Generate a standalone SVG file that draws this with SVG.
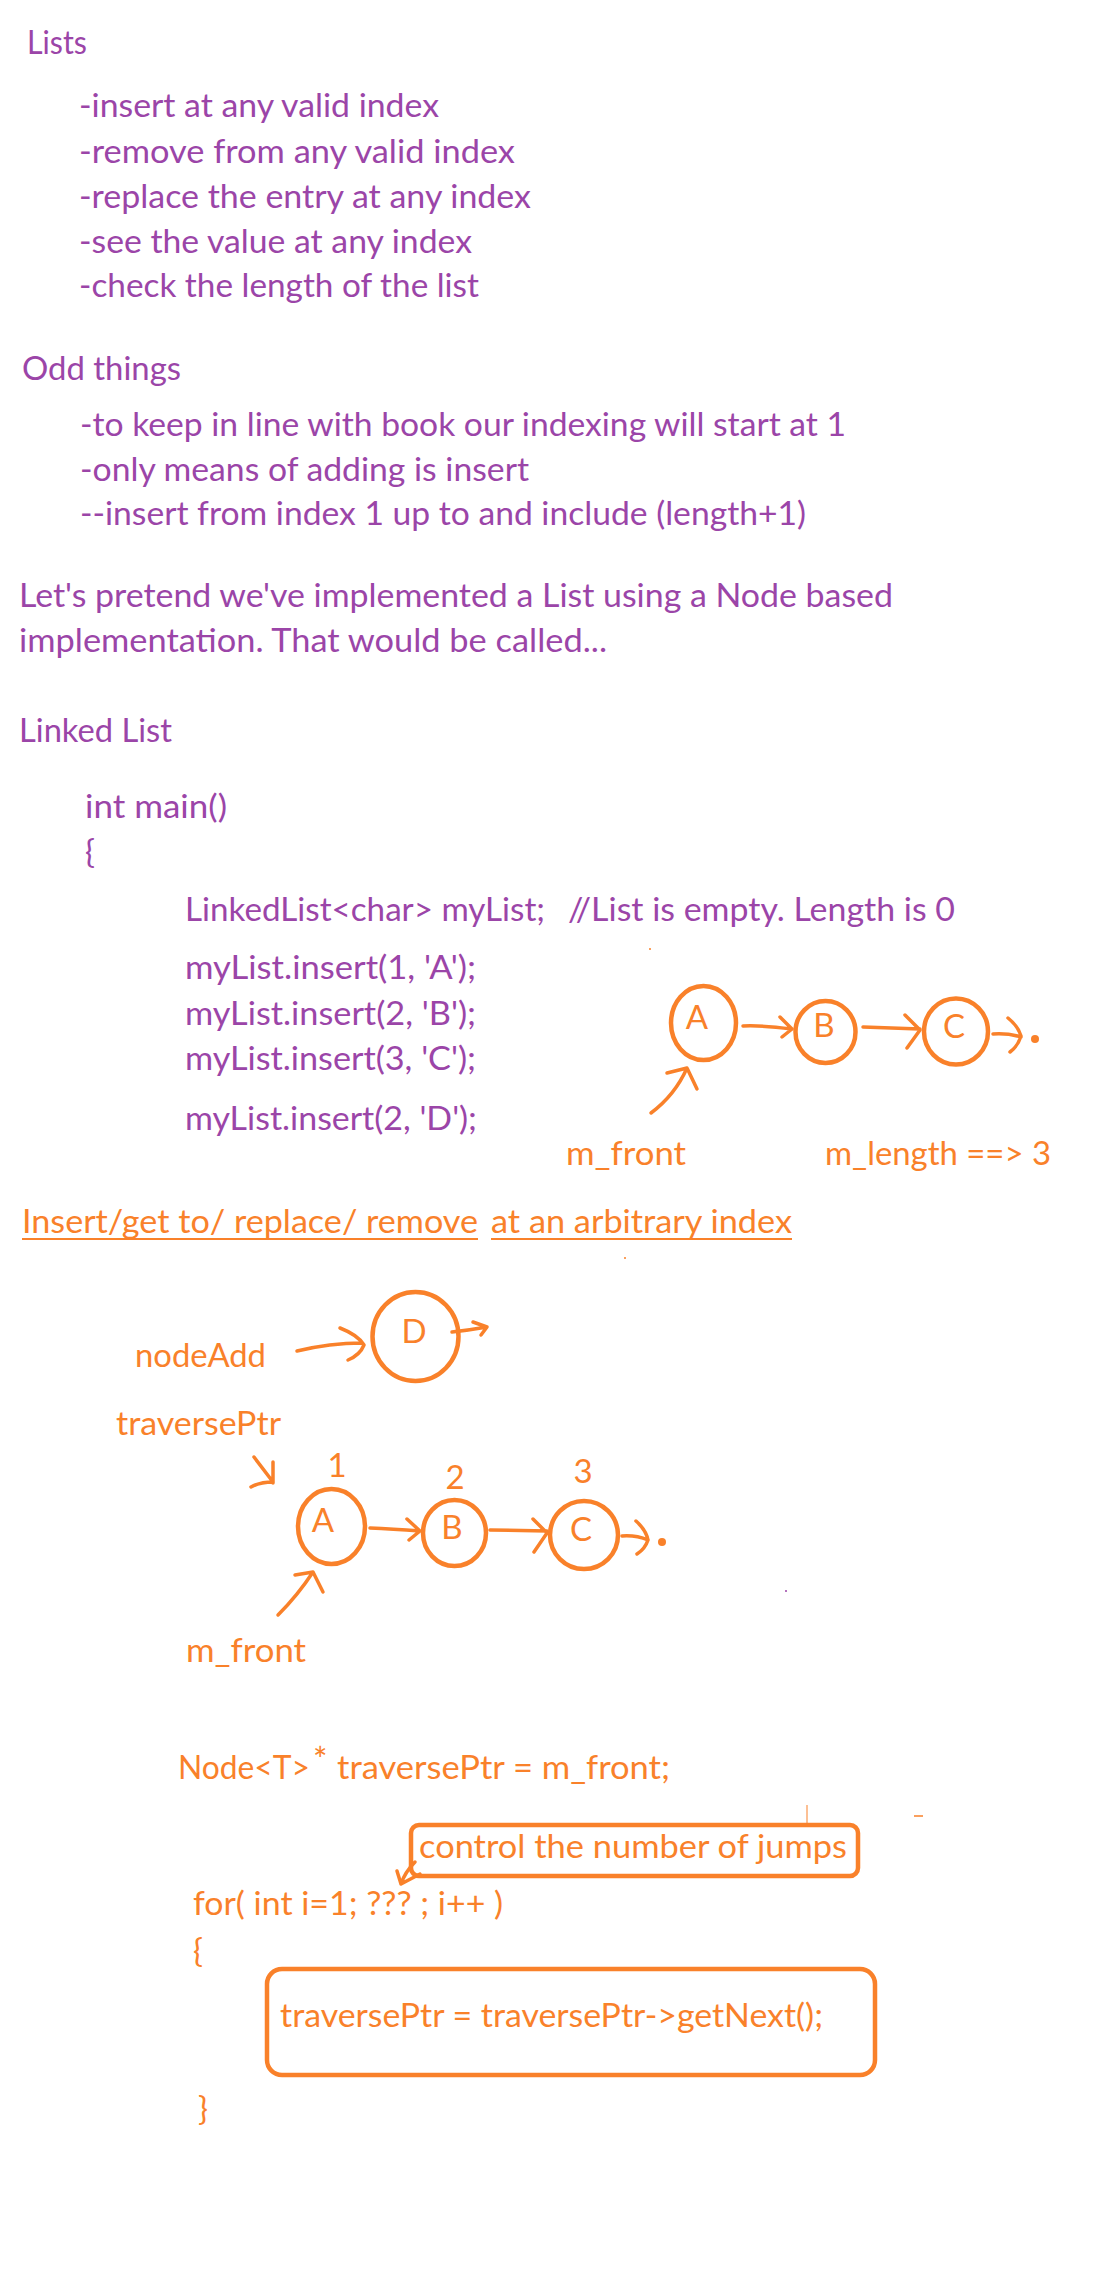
<svg xmlns="http://www.w3.org/2000/svg" width="1112" height="2276" viewBox="0 0 1112 2276">
<style>
text{font-family:Lato,"Open Sans","Liberation Sans",sans-serif;font-size:33px}
.p{fill:#9B45A8}
.o{fill:#F9812A}
.c{text-anchor:middle}
.ring{fill:none;stroke:#F9812A;stroke-width:4.5}
.ln{fill:none;stroke:#F9812A;stroke-width:3.5;stroke-linecap:round;stroke-linejoin:round}
.box{fill:none;stroke:#F9812A;stroke-width:4.5}
</style>
<rect width="1112" height="2276" fill="#fff"/>

<g id="notes">
<text class="p" x="27" y="54" textLength="60" lengthAdjust="spacingAndGlyphs">Lists</text>
<text class="p" x="79" y="117" textLength="360" lengthAdjust="spacingAndGlyphs">-insert at any valid index</text>
<text class="p" x="79" y="163" textLength="436" lengthAdjust="spacingAndGlyphs">-remove from any valid index</text>
<text class="p" x="79" y="208" textLength="452" lengthAdjust="spacingAndGlyphs">-replace the entry at any index</text>
<text class="p" x="79" y="253" textLength="393" lengthAdjust="spacingAndGlyphs">-see the value at any index</text>
<text class="p" x="79" y="297" textLength="400" lengthAdjust="spacingAndGlyphs">-check the length of the list</text>
<text class="p" x="22" y="380" textLength="159" lengthAdjust="spacingAndGlyphs">Odd things</text>
<text class="p" x="80" y="436" textLength="766" lengthAdjust="spacingAndGlyphs">-to keep in line with book our indexing will start at 1</text>
<text class="p" x="80" y="481" textLength="449" lengthAdjust="spacingAndGlyphs">-only means of adding is insert</text>
<text class="p" x="80" y="525" textLength="726" lengthAdjust="spacingAndGlyphs">--insert from index 1 up to and include (length+1)</text>
<text class="p" x="19" y="607" textLength="874" lengthAdjust="spacingAndGlyphs">Let's pretend we've implemented a List using a Node based</text>
<text class="p" x="19" y="652" textLength="588" lengthAdjust="spacingAndGlyphs">implementation. That would be called...</text>
<text class="p" x="19" y="742" textLength="153" lengthAdjust="spacingAndGlyphs">Linked List</text>
<text class="p" x="85" y="818" textLength="142" lengthAdjust="spacingAndGlyphs">int main()</text>
<text class="p" x="85" y="863">{</text>
<text class="p" x="185" y="921" textLength="360" lengthAdjust="spacingAndGlyphs">LinkedList&lt;char&gt; myList;</text>
<text class="p" x="568" y="921" textLength="387" lengthAdjust="spacingAndGlyphs">//List is empty. Length is 0</text>
<text class="p" x="185" y="979" textLength="291" lengthAdjust="spacingAndGlyphs">myList.insert(1, 'A');</text>
<text class="p" x="185" y="1025" textLength="291" lengthAdjust="spacingAndGlyphs">myList.insert(2, 'B');</text>
<text class="p" x="185" y="1070" textLength="291" lengthAdjust="spacingAndGlyphs">myList.insert(3, 'C');</text>
<text class="p" x="185" y="1130" textLength="292" lengthAdjust="spacingAndGlyphs">myList.insert(2, 'D');</text>
</g>

<g id="list1-A"><ellipse class="ring" cx="703.5" cy="1023" rx="32.5" ry="37"/><text class="o c" x="697" y="1029">A</text></g>
<g id="list1-B"><ellipse class="ring" cx="825.5" cy="1032" rx="30" ry="31"/><text class="o c" x="824" y="1037">B</text></g>
<g id="list1-C"><ellipse class="ring" cx="956" cy="1031.5" rx="32" ry="33"/><text class="o c" x="954" y="1038">C</text></g>
<g id="list1-null"><circle cx="1035" cy="1039" r="4" fill="#F9812A"/></g>
<g id="list1-labels">
<text class="o" x="566" y="1165" textLength="120" lengthAdjust="spacingAndGlyphs">m_front</text>
<text class="o" x="825" y="1165" textLength="226" lengthAdjust="spacingAndGlyphs">m_length ==&gt; 3</text>
</g>

<g id="heading">
<text class="o" x="22" y="1233" textLength="456" lengthAdjust="spacingAndGlyphs">Insert/get to/ replace/ remove</text>
<text class="o" x="491" y="1233" textLength="301" lengthAdjust="spacingAndGlyphs">at an arbitrary index</text>
<line x1="22" y1="1239" x2="478" y2="1239" stroke="#F9812A" stroke-width="2"/>
<line x1="491" y1="1239" x2="792" y2="1239" stroke="#F9812A" stroke-width="2"/>
</g>

<g id="nodeAdd-label"><text class="o" x="135" y="1367" textLength="131" lengthAdjust="spacingAndGlyphs">nodeAdd</text></g>
<g id="node-D"><ellipse class="ring" cx="415.5" cy="1336.5" rx="43" ry="44.5"/><text class="o c" x="414" y="1343">D</text></g>
<g id="traversePtr-label"><text class="o" x="116" y="1435" textLength="165" lengthAdjust="spacingAndGlyphs">traversePtr</text></g>
<g id="indices">
<text class="o c" x="337" y="1477">1</text>
<text class="o c" x="455" y="1489">2</text>
<text class="o c" x="583" y="1483">3</text>
</g>
<g id="list2-A"><ellipse class="ring" cx="331.5" cy="1526.5" rx="33.5" ry="37.5"/><text class="o c" x="323" y="1532">A</text></g>
<g id="list2-B"><ellipse class="ring" cx="454.5" cy="1533" rx="31.5" ry="33"/><text class="o c" x="452" y="1539">B</text></g>
<g id="list2-C"><ellipse class="ring" cx="584" cy="1535" rx="34" ry="34"/><text class="o c" x="581" y="1541">C</text></g>
<g id="list2-null"><circle cx="662" cy="1542" r="4" fill="#F9812A"/></g>
<g id="list2-front"><text class="o" x="186" y="1662" textLength="120" lengthAdjust="spacingAndGlyphs">m_front</text></g>

<g id="code">
<text class="o" x="178" y="1779" textLength="132" lengthAdjust="spacingAndGlyphs">Node&lt;T&gt;</text>
<text class="o" x="313" y="1772" style="font-size:34px">*</text>
<text class="o" x="337" y="1779" textLength="333" lengthAdjust="spacingAndGlyphs">traversePtr = m_front;</text>
<text class="o" x="193" y="1915" textLength="310" lengthAdjust="spacingAndGlyphs">for( int i=1; ??? ; i++ )</text>
<text class="o" x="193" y="1962">{</text>
<text class="o" x="198" y="2120">}</text>
</g>
<g id="callout">
<rect class="box" x="411" y="1825" width="447" height="51" rx="8"/>
<text class="o" x="419" y="1858" textLength="428" lengthAdjust="spacingAndGlyphs">control the number of jumps</text>
</g>
<g id="loop-body">
<rect class="box" x="267" y="1969" width="608" height="106" rx="15"/>
<text class="o" x="280" y="2027" textLength="543" lengthAdjust="spacingAndGlyphs">traversePtr = traversePtr-&gt;getNext();</text>
</g>

<g id="connectors">
<path class="ln" d="M743,1026 Q760,1025 792,1029 M780,1017 L792,1029 L782,1037"/>
<path class="ln" d="M863,1027 L920,1029 M905,1015 L920,1030 L907,1048"/>
<path class="ln" d="M993,1034 Q1008,1033 1021,1037 M1008,1018 Q1018,1026 1021,1036 Q1018,1046 1010,1052"/>
<path class="ln" d="M651,1113 Q675,1095 687,1068 M667,1073 L687,1068 L697,1089"/>
<path class="ln" d="M297,1351 Q330,1343 362,1343 M340,1328 Q358,1335 364,1345 Q360,1355 348,1360"/>
<path class="ln" d="M452,1332 Q470,1330 487,1327 M473,1322 L487,1327 L481,1335"/>
<path class="ln" d="M254,1457 L273,1482 M273,1462 L273,1483 M251,1487 Q260,1482 273,1482"/>
<path class="ln" d="M370,1528 Q392,1529 420,1531 M407,1519 L420,1531 L409,1540"/>
<path class="ln" d="M490,1530 L547,1531 M533,1519 L547,1533 L534,1552"/>
<path class="ln" d="M622,1536 Q636,1535 648,1540 M636,1521 Q646,1530 648,1540 Q645,1549 637,1554"/>
<path class="ln" d="M278,1615 Q298,1595 313,1572 M295,1575 L313,1572 L323,1592"/>
<path class="ln" d="M415,1862 Q405,1872 401,1884 M397,1871 L401,1884 L420,1874" stroke-width="3"/>
</g>

<g id="marks">
<line x1="807" y1="1805" x2="807" y2="1823" stroke="#F9812A" stroke-width="1"/>
<line x1="914" y1="1816" x2="923" y2="1816" stroke="#F9812A" stroke-width="1.5"/>
<circle cx="650" cy="949" r="1" fill="#F9812A"/>
<circle cx="625" cy="1258" r="1" fill="#F9812A"/>
<circle cx="786" cy="1591" r="1" fill="#9B45A8"/>
</g>
</svg>
